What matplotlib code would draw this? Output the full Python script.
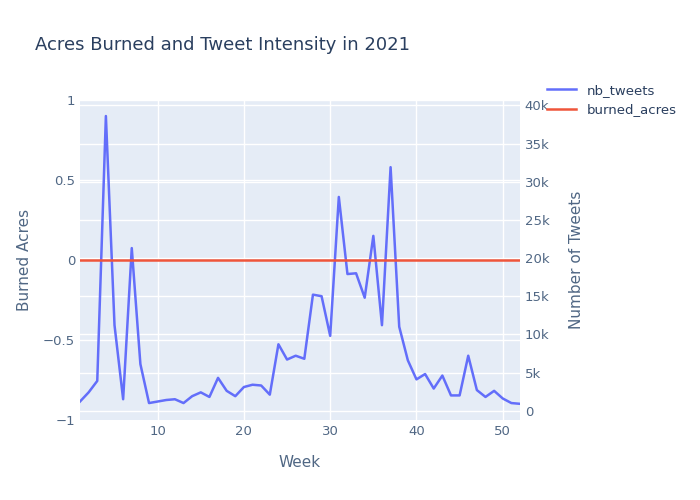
import matplotlib
matplotlib.use("Agg")
import matplotlib.pyplot as plt
from matplotlib.lines import Line2D

weeks = list(range(1, 53))
nb_tweets = [1200, 2400, 3900, 38600, 11200, 1500, 21300, 6100, 1000, 1200,
             1400, 1500, 1000, 1900, 2400, 1800, 4300, 2600, 1900, 3100,
             3400, 3300, 2100, 8700, 6700, 7200, 6800, 15200, 15000, 9800,
             28000, 17900, 18000, 14800, 22900, 11200, 31900, 11000, 6600, 4100,
             4800, 2900, 4600, 2000, 2000, 7200, 2700, 1800, 2600, 1600,
             1000, 900]
burned_acres = [0] * 52

TXT = "#2a3f5f"
TICK = "#506784"
BG = "#e5ecf6"

fig = plt.figure(figsize=(7, 5), dpi=100)
ax = fig.add_axes([80 / 700, 80 / 500, 440 / 700, 320 / 500])
ax2 = ax.twinx()

ax.plot(weeks, burned_acres, color="#EF553B", linewidth=1.8, zorder=3)
ax2.plot(weeks, nb_tweets, color="#636efa", linewidth=1.8)
ax.set_zorder(ax2.get_zorder() + 1)
ax.patch.set_visible(False)
ax2.set_facecolor(BG)
ax2.patch.set_visible(True)

ax.set_xlim(1, 52)
ax.set_ylim(-1, 1)
ax2.set_ylim(-1220, 40700)
ax.set_xticks([10, 20, 30, 40, 50])
ax.set_yticks([-1, -0.5, 0, 0.5, 1])
ax.set_yticklabels(["\u22121", "\u22120.5", "0", "0.5", "1"])
ax2.set_yticks([0, 5000, 10000, 15000, 20000, 25000, 30000, 35000, 40000])
ax2.set_yticklabels(["0", "5k", "10k", "15k", "20k", "25k", "30k", "35k", "40k"])

# plotly-like grid drawn on the back axes
for x in [10, 20, 30, 40, 50]:
    ax2.axvline(x, color="white", linewidth=1, zorder=0)
for y in [-0.5, 0.5, 1]:
    ax2.axhline(y * 20960 + 19740, color="white", linewidth=1, zorder=0)
for y in range(0, 45000, 5000):
    ax2.axhline(y, color="white", linewidth=1, zorder=0)

for a in (ax, ax2):
    for s in a.spines.values():
        s.set_visible(False)
    a.tick_params(length=0, colors=TICK, labelsize=9.5)

ax.set_xlabel("Week", color=TICK, fontsize=11, labelpad=12)
ax.set_ylabel("Burned Acres", color=TICK, fontsize=11, labelpad=8)
ax2.set_ylabel("Number of Tweets", color=TICK, fontsize=11, labelpad=14)

fig.text(35 / 700, 1 - 45 / 500, "Acres Burned and Tweet Intensity in 2021",
         color=TXT, fontsize=13, va="center")

handles = [Line2D([0], [0], color="#636efa", linewidth=1.8, label="nb_tweets"),
           Line2D([0], [0], color="#EF553B", linewidth=1.8, label="burned_acres")]
fig.legend(handles=handles, loc="upper left", bbox_to_anchor=(535 / 700, 1 - 72 / 500),
           frameon=False, fontsize=9.5, labelcolor=TXT, handlelength=2.2)

fig.savefig("out.png", dpi=100)
